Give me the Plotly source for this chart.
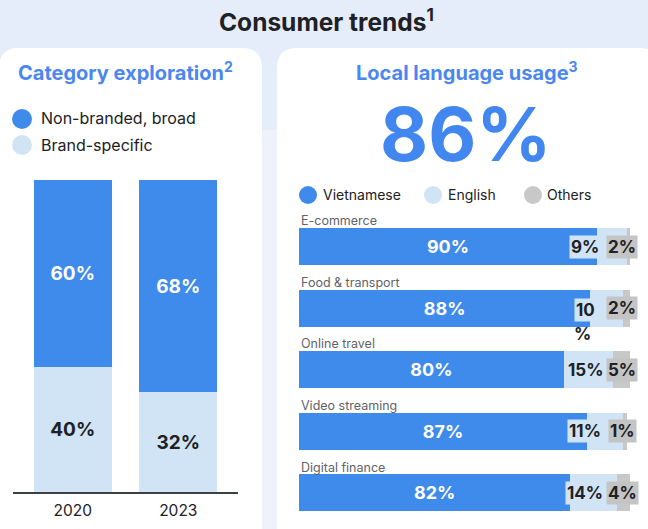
import plotly.graph_objects as go

W, H = 648, 529

# ---------------- data ----------------
years = ["2020", "2023"]
non_branded = [60, 68]
brand_specific = [40, 32]

sectors = ["E-commerce", "Food & transport", "Online travel", "Video streaming", "Digital finance"]
vietnamese = [90, 88, 80, 87, 82]
english = [9, 10, 15, 11, 14]
others = [2, 2, 5, 1, 4]
english_labels = ["9%", "10<br>%", "15%", "11%", "14%"]
others_labels = ["2%", "2%", "5%", "1%", "4%"]

headline = "86%"

# ---------------- style ----------------
FONT = "Inter"
BLUE = "#3f8bec"
LIGHT = "#d1e4f6"
GREY = "#c8c8c8"
TITLE_BLUE = "#4b87ef"
DARK = "#202124"
LABEL_GREY = "#5f6368"


def px(x):
    return x / W


def py(y):
    return 1 - y / H


def rrect(x0, y0, x1, y1, r):
    rx, ry = r / W, r / H
    X0, X1 = px(x0), px(x1)
    Y0, Y1 = py(y0), py(y1)  # Y0 top (bigger), Y1 bottom
    return (f"M {X0+rx},{Y0} L {X1-rx},{Y0} Q {X1},{Y0} {X1},{Y0-ry} "
            f"L {X1},{Y1+ry} Q {X1},{Y1} {X1-rx},{Y1} L {X0+rx},{Y1} "
            f"Q {X0},{Y1} {X0},{Y1+ry} L {X0},{Y0-ry} Q {X0},{Y0} {X0+rx},{Y0} Z")


fig = go.Figure()

# ---------- left: category exploration ----------
fig.add_trace(go.Bar(
    x=years, y=brand_specific, marker=dict(color=LIGHT, line=dict(width=0)),
    text=[f"{v}%" for v in brand_specific], textposition="inside",
    insidetextanchor="middle", textangle=0,
    textfont=dict(family=FONT, size=19, color=DARK, weight="bold"),
    width=0.74, xaxis="x", yaxis="y", cliponaxis=False, hoverinfo="skip"))
fig.add_trace(go.Bar(
    x=years, y=non_branded, marker=dict(color=BLUE, line=dict(width=0)),
    text=[f"{v}%" for v in non_branded], textposition="inside",
    insidetextanchor="middle", textangle=0,
    textfont=dict(family=FONT, size=19, color="white", weight="bold"),
    width=0.74, xaxis="x", yaxis="y", cliponaxis=False, hoverinfo="skip"))

# ---------- right: local language usage ----------
fig.add_trace(go.Bar(
    y=sectors, x=vietnamese, orientation="h", marker=dict(color=BLUE, line=dict(width=0)),
    text=[f"{v}%" for v in vietnamese], textposition="inside",
    insidetextanchor="middle", textangle=0,
    textfont=dict(family=FONT, size=18, color="white", weight="bold"),
    width=0.6, xaxis="x2", yaxis="y2", cliponaxis=False, hoverinfo="skip"))
fig.add_trace(go.Bar(
    y=sectors, x=english, orientation="h", marker=dict(color=LIGHT, line=dict(width=0)),
    textposition="none",
    width=0.6, xaxis="x2", yaxis="y2", cliponaxis=False, hoverinfo="skip"))
fig.add_trace(go.Bar(
    y=sectors, x=others, orientation="h", marker=dict(color=GREY, line=dict(width=0)),
    textposition="none",
    width=0.6, xaxis="x2", yaxis="y2", cliponaxis=False, hoverinfo="skip"))

shapes = [
    dict(type="rect", xref="paper", yref="paper", x0=0, x1=1, y0=0, y1=py(130),
         fillcolor="#eef2f9", line=dict(width=0), layer="below"),
    dict(type="path", xref="paper", yref="paper", path=rrect(-1, 48, 262, 580, 20),
         fillcolor="white", line=dict(width=0), layer="below"),
    dict(type="path", xref="paper", yref="paper", path=rrect(277, 48, 660, 580, 20),
         fillcolor="white", line=dict(width=0), layer="below"),
]


def circle(cx, cy, r, color):
    return dict(type="circle", xref="paper", yref="paper",
                x0=px(cx - r), x1=px(cx + r), y0=py(cy + r), y1=py(cy - r),
                fillcolor=color, line=dict(width=0))


shapes += [
    circle(22, 119, 10, BLUE), circle(22, 145, 10, LIGHT),
    circle(308, 195, 9, BLUE), circle(433, 195, 9, LIGHT), circle(533, 195, 9, GREY),
]

ann = []


def text(x, y, s, size, color=DARK, bold=False, xanchor="center", **kw):
    ann.append(dict(xref="paper", yref="paper", x=px(x), y=py(y), text=s, showarrow=False,
                    xanchor=xanchor, yanchor="middle",
                    font=dict(family=FONT, size=size, color=color, weight="bold" if bold else "normal"),
                    **kw))


text(326, 20, "Consumer trends<sup>1</sup>", 24.5, DARK, True)
text(125, 72, "Category exploration<sup>2</sup>", 20, TITLE_BLUE, True)
text(467, 72, "Local language usage<sup>3</sup>", 20, TITLE_BLUE, True)
text(465, 134, headline, 74, "#4287f0", True)

text(39, 118, "Non-branded, broad", 16, DARK, xanchor="left")
text(39, 145, "Brand-specific", 16, DARK, xanchor="left")
text(321, 195, "Vietnamese", 14, DARK, xanchor="left")
text(446, 195, "English", 14, DARK, xanchor="left")
text(545, 195, "Others", 14, DARK, xanchor="left")

for i, s in enumerate(sectors):
    ann.append(dict(xref="x2", yref="y2", x=0, y=i - 0.42, text=s, showarrow=False,
                    xanchor="left", yanchor="middle",
                    font=dict(family=FONT, size=12.5, color=LABEL_GREY)))
    parts = english_labels[i].split("<br>")
    ann.append(dict(xref="paper", yref="y2", x=px(585), y=i + (0.03 if len(parts) > 1 else 0),
                    text=parts[0], showarrow=False, xanchor="center", yanchor="middle",
                    bgcolor=LIGHT, borderpad=1,
                    font=dict(family=FONT, size=17, color=DARK, weight="bold")))
    if len(parts) > 1:
        ann.append(dict(xref="paper", yref="y2", x=px(582), y=i + 0.42,
                        text=parts[1], showarrow=False, xanchor="center", yanchor="middle",
                        font=dict(family=FONT, size=17, color=DARK, weight="bold")))
    ann.append(dict(xref="paper", yref="y2", x=px(622), y=i,
                    text=others_labels[i], showarrow=False, xanchor="center", yanchor="middle",
                    bgcolor="#c4c4c4", borderpad=1,
                    font=dict(family=FONT, size=17, color=DARK, weight="bold")))

fig.update_layout(
    width=W, height=H, margin=dict(l=0, r=0, t=0, b=0),
    paper_bgcolor="#e5ecfa", plot_bgcolor="rgba(0,0,0,0)",
    barmode="stack", showlegend=False,
    shapes=shapes, annotations=ann,
    xaxis=dict(domain=[px(13), px(238)], range=[-0.566, 1.566], anchor="y",
               showline=True, linecolor="#3c4043", linewidth=1.5, showgrid=False,
               zeroline=False, ticks="", fixedrange=True, ticklabelstandoff=4,
               tickfont=dict(family=FONT, size=15.5, color=DARK)),
    yaxis=dict(domain=[py(492), py(180)], range=[0, 100], visible=False, fixedrange=True),
    xaxis2=dict(domain=[px(299), px(630)], range=[0, 100], anchor="y2", visible=False,
                fixedrange=True),
    yaxis2=dict(domain=[py(523.8), py(215.7)], type="category", categoryorder="array",
                categoryarray=sectors, range=[4.5, -0.5], visible=False, fixedrange=True),
    font=dict(family=FONT),
)

fig.write_html("out.html", config={"displayModeBar": False},
               post_script="document.body.style.margin='0';document.body.style.overflow='hidden';")
